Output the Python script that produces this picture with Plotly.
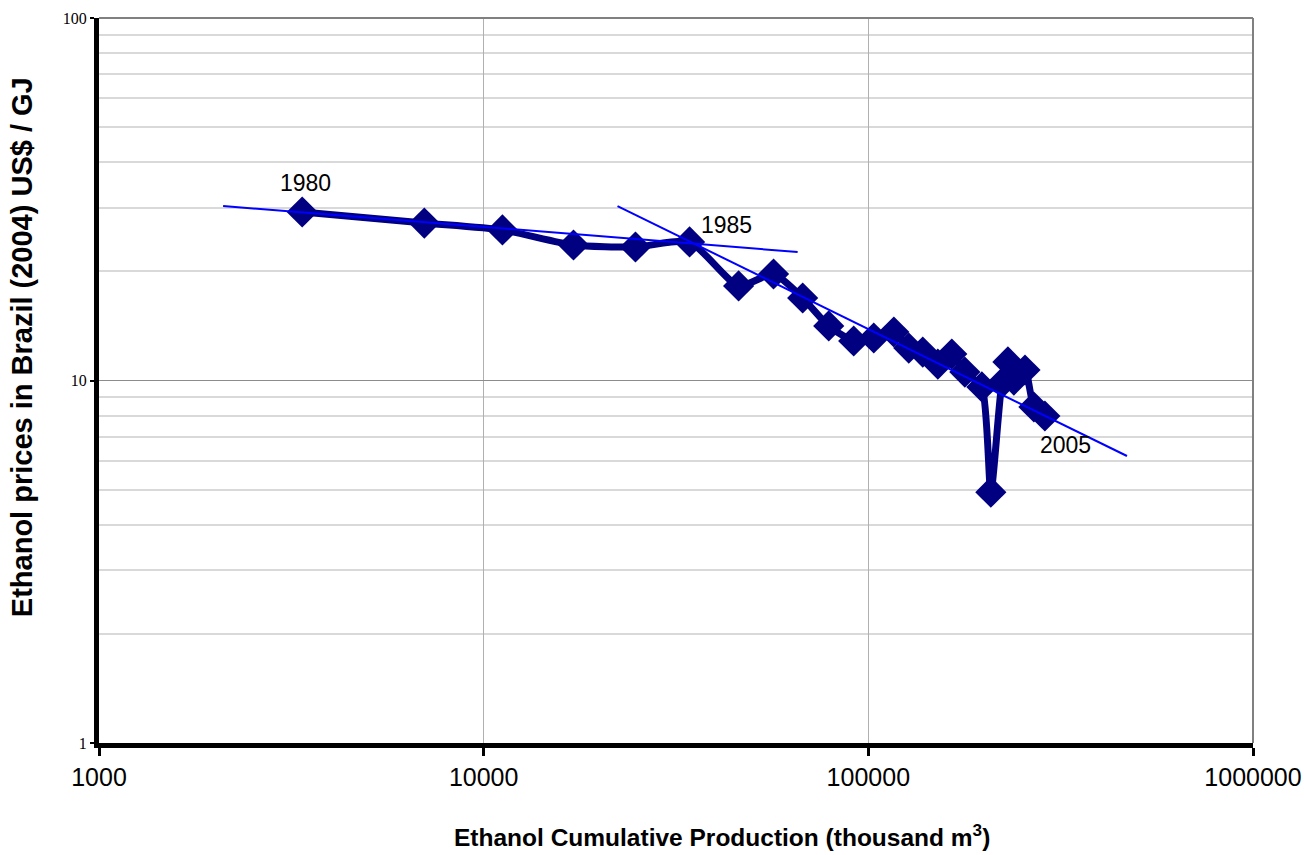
import math
import plotly.graph_objects as go

years = list(range(1980, 2006))
cum_prod = [3375, 7010, 11190, 17120, 24810, 34300, 46000, 56700, 67500, 78900,
            91600, 103300, 116500, 127400, 138500, 151600, 164800, 178200, 197300,
            208200, 222400, 230600, 239000, 255400, 269400, 287700]
price = [29.16, 27.19, 26.02, 23.65, 23.35, 24.11, 18.23, 19.67, 16.89, 14.14,
         12.85, 13.10, 13.61, 12.29, 11.98, 11.10, 11.83, 10.55, 9.60,
         4.92, 9.84, 11.25, 10.03, 10.69, 8.45, 7.98]

trend1_x = [2102, 65500]
trend1_y = [30.29, 22.62]
trend2_x = [22280, 470300]
trend2_y = [30.29, 6.19]

label_text = ["1980", "1985", "2005"]
label_x = [3436, 42800, 326400]
label_y = [35.1, 26.85, 6.64]

x_ticks = [1000, 10000, 100000, 1000000]
y_ticks = [1, 10, 100]
y_minor = [m * d for d in (1, 10) for m in range(2, 10)]

x_title = "<b>Ethanol Cumulative Production (thousand m<sup>3</sup>)</b>"
y_title = "<b>Ethanol prices in Brazil (2004) US$ / GJ</b>"

fig = go.Figure()
fig.add_trace(go.Scatter(
    x=cum_prod, y=price, mode="lines+markers",
    line=dict(color="#000080", width=7, shape="spline", smoothing=0.6),
    marker=dict(symbol="diamond", size=24, color="#000080"),
    showlegend=False, hoverinfo="skip"))
fig.add_trace(go.Scatter(x=trend1_x, y=trend1_y, mode="lines",
                         line=dict(color="#0000FF", width=2), showlegend=False))
fig.add_trace(go.Scatter(x=trend2_x, y=trend2_y, mode="lines",
                         line=dict(color="#0000FF", width=2), showlegend=False))

for t, x, y in zip(label_text, label_x, label_y):
    fig.add_annotation(x=math.log10(x), y=math.log10(y), text=t, showarrow=False,
                       font=dict(family="Liberation Sans", size=23, color="black"))

fig.add_annotation(xref="paper", yref="paper", x=0.540, y=-0.127, text=x_title,
                   xanchor="center", yanchor="middle",
                   showarrow=False, font=dict(family="Liberation Sans", size=24.5, color="black"))
fig.add_annotation(xref="paper", yref="paper", x=-0.0667, y=0.546, text=y_title,
                   xanchor="center", yanchor="middle",
                   textangle=-90, showarrow=False,
                   font=dict(family="Liberation Sans", size=29, color="black"))

fig.update_layout(
    width=1304, height=855,
    margin=dict(l=99, r=51, t=18, b=112, autoexpand=False),
    paper_bgcolor="white", plot_bgcolor="white",
    font=dict(family="Liberation Sans", color="black"),
    xaxis=dict(
        type="log", range=[3, 6], tickvals=x_ticks,
        ticktext=[str(v) for v in x_ticks],
        tickfont=dict(family="Liberation Sans", size=25),
        showgrid=True, gridcolor="#b0b0b0", gridwidth=1,
        showline=True, linecolor="black", linewidth=5,
        ticks="outside", ticklen=8, tickwidth=3, tickcolor="black",
        zeroline=False, automargin=False,
    ),
    yaxis=dict(
        type="log", range=[0, 2], tickvals=y_ticks,
        ticktext=[str(v) for v in y_ticks],
        tickfont=dict(family="Liberation Serif", size=16),
        showgrid=True, gridcolor="#8c8c8c", gridwidth=1,
        minor=dict(tickvals=y_minor, showgrid=True, gridcolor="#d9d9d9", gridwidth=2, ticks=""),
        showline=True, linecolor="black", linewidth=5,
        ticks="outside", ticklen=4, tickwidth=2, tickcolor="black",
        zeroline=False, automargin=False,
    ),
)

fig.add_shape(type="line", xref="paper", yref="paper", x0=0, x1=1, y0=1, y1=1,
              line=dict(color="#808080", width=2))
fig.add_shape(type="line", xref="paper", yref="paper", x0=1, x1=1, y0=0, y1=1,
              line=dict(color="#808080", width=2))

fig.write_html("out.html")
